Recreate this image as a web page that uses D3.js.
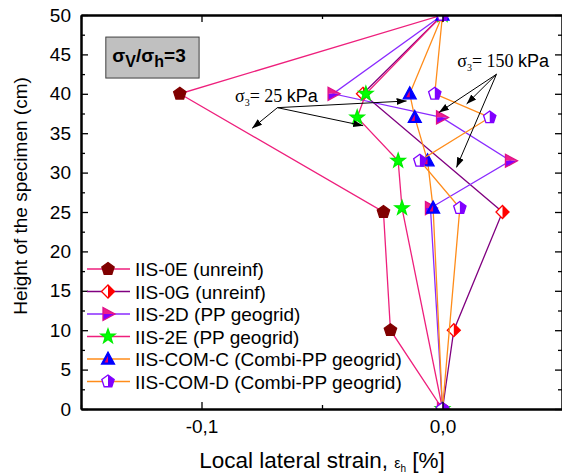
<!DOCTYPE html>
<html>
<head>
<meta charset="utf-8">
<script src="https://d3js.org/d3.v7.min.js"></script>
<style>
  body { margin: 0; background: #fff; }
  text { font-family: "Liberation Sans", Arial, sans-serif; }
</style>
</head>
<body>
<svg width="562" height="475"></svg>
<script>
// data (strain in %, height in cm)
const heightsA = [0, 10, 25, 40, 50];
const heightsB = [0, 25.5, 31.5, 37, 40, 50];

const strain0E = [0, -0.0216, -0.0245, -0.109, 0];
const strain0G = [0, 0.0047, 0.0249, -0.033, 0];
const strain2D = [0, -0.005, 0.0282, -0.0004, -0.0454, 0];
const strain2E = [0, -0.0168, -0.0184, -0.0354, -0.0318, 0];
const strainCOMC = [0, -0.0039, -0.0062, -0.0115, -0.0136, 0];
const strainCOMD = [0, 0.0072, -0.0094, 0.0196, -0.0032, 0];

const seriesNames = ["IIS-0E (unreinf)", "IIS-0G (unreinf)", "IIS-2D (PP geogrid)",
  "IIS-2E (PP geogrid)", "IIS-COM-C (Combi-PP geogrid)", "IIS-COM-D (Combi-PP geogrid)"];

const xMajor = [-0.1, 0];
const xMinor = [-0.15, -0.05, 0.05];
const yMajor = [0, 5, 10, 15, 20, 25, 30, 35, 40, 45, 50];
const yMinor = [2.5, 7.5, 12.5, 17.5, 22.5, 27.5, 32.5, 37.5, 42.5, 47.5];

const pink = "#ee1f7c", orange = "#ff8c1a", violet = "#8a2bff";

const series = [
  {name: seriesNames[0], h: heightsA, s: strain0E, line: pink, sym: "pent0E"},
  {name: seriesNames[1], h: heightsA, s: strain0G, line: "#800080", sym: "diamond"},
  {name: seriesNames[2], h: heightsB, s: strain2D, line: violet, sym: "tri2D"},
  {name: seriesNames[3], h: heightsB, s: strain2E, line: pink, sym: "star"},
  {name: seriesNames[4], h: heightsB, s: strainCOMC, line: orange, sym: "triC"},
  {name: seriesNames[5], h: heightsB, s: strainCOMD, line: orange, sym: "pentD"}
];

const svg = d3.select("svg");
const x = d3.scaleLinear().domain([-0.15, 0.05]).range([81, 563]);
const y = d3.scaleLinear().domain([0, 50]).range([409, 15]);

svg.append("defs").append("clipPath").attr("id", "plot")
  .append("rect").attr("x", 81).attr("y", 15).attr("width", 482).attr("height", 394);

// marker shapes: list of [points, fill, stroke]
function pentPts(r) {
  return d3.range(5).map(i => {
    const a = -Math.PI / 2 + i * 2 * Math.PI / 5;
    return [r * Math.cos(a), r * Math.sin(a)];
  });
}
function symbolParts(kind) {
  if (kind === "pent0E") {
    return [[pentPts(6.5), "#800000", "#800000"]];
  }
  if (kind === "pentD") {
    const p = pentPts(6.5);
    return [[p, "#fff", null], [[p[0], p[1], p[2], [0, p[2][1]]], "#8000ff", null], [p, "none", "#8000ff"]];
  }
  if (kind === "diamond") {
    const r = 6.5, p = [[0, -r], [r, 0], [0, r], [-r, 0]];
    return [[p, "#fff", null], [[[0, -r], [r, 0], [0, r]], "#ff0000", null], [p, "none", "#ff0000"]];
  }
  if (kind === "tri2D") {
    const r = 7, a = -5;
    return [[[[a, -6.5], [r, 0], [a, 0]], "#ee1f8a", null], [[[a, 0], [r, 0], [a, 6.5]], "#8000ff", null],
      [[[a, -6.5], [r, 0], [a, 6.5]], "none", "#e0108a"]];
  }
  if (kind === "triC") {
    const p = [[0, -7], [6.5, 5], [-6.5, 5]];
    return [[p, "#0000ff", null], [[[0, -3], [0, 3.5], [-3.5, 3.5]], "#e5006e", null], [p, "none", "#0000ff"]];
  }
  if (kind === "star") {
    const p = d3.range(10).map(i => {
      const a = -Math.PI / 2 + i * Math.PI / 5, rr = i % 2 ? 3 : 7.5;
      return [rr * Math.cos(a), rr * Math.sin(a)];
    });
    return [[p, "#00ff00", "#00ee00"]];
  }
}
function drawSymbol(g, kind) {
  symbolParts(kind).forEach(([pts, fill, stroke]) => {
    g.append("path").attr("d", "M" + pts.map(p => p.join(",")).join("L") + "Z")
      .attr("fill", fill).attr("stroke", stroke || "none").attr("stroke-width", 1.3);
  });
}

// lines and markers
const plot = svg.append("g").attr("clip-path", "url(#plot)");
const line = d3.line().x(d => x(d[0])).y(d => y(d[1]));
series.forEach(sr => {
  const pts = sr.s.map((v, i) => [v, sr.h[i]]);
  plot.append("path").datum(pts).attr("d", line)
    .attr("fill", "none").attr("stroke", sr.line).attr("stroke-width", 1.3);
  pts.forEach(p => {
    drawSymbol(plot.append("g").attr("transform", `translate(${x(p[0])},${y(p[1])})`), sr.sym);
  });
});

// axes, ticks inward on all four sides
const fmt = d => d.toFixed(1).replace(".", ",");
function axisPair(axisFn, scale, tr, majors, minors, labels, pad) {
  const gMaj = svg.append("g").attr("transform", tr)
    .call(axisFn(scale).tickValues(majors).tickSize(-7).tickSizeOuter(0).tickPadding(pad)
      .tickFormat(labels ? labels : ""));
  svg.append("g").attr("transform", tr)
    .call(axisFn(scale).tickValues(minors).tickSize(-4).tickSizeOuter(0).tickFormat(""));
  return gMaj;
}
axisPair(d3.axisBottom, x, "translate(0,409)", xMajor, xMinor, fmt, 10.5);
axisPair(d3.axisTop, x, "translate(0,15)", xMajor, xMinor, null, 4);
axisPair(d3.axisLeft, y, "translate(81,0)", yMajor, yMinor, d3.format("d"), 10);
axisPair(d3.axisRight, y, "translate(562,0)", yMajor, yMinor, null, 4);
svg.selectAll(".domain").attr("stroke", "#000").attr("stroke-width", 2);
svg.selectAll(".tick line").attr("stroke", "#000").attr("stroke-width", 1.3);
svg.selectAll(".tick text").attr("fill", "#000").style("font-size", "19px")
  .style("font-family", "'Liberation Sans', Arial, sans-serif");

// axis titles
const xt = svg.append("text").attr("x", 322).attr("y", 468).attr("text-anchor", "middle")
  .style("font-size", "22.5px");
xt.append("tspan").text("Local lateral strain, ");
xt.append("tspan").text("ε").style("font-size", "14px");
xt.append("tspan").text("h").style("font-size", "10px").attr("dy", 4);
xt.append("tspan").text(" [%]").attr("dy", -4);

svg.append("text").attr("transform", "translate(27,196) rotate(-90)")
  .attr("text-anchor", "middle").style("font-size", "19px")
  .text("Height of the specimen (cm)");

// ratio box
svg.append("rect").attr("x", x(-0.1397)).attr("y", y(47.2))
  .attr("width", x(-0.101) - x(-0.1397)).attr("height", y(42.0) - y(47.2))
  .attr("fill", "#c0c0c0").attr("stroke", "#404040").attr("stroke-width", 1);
const bt = svg.append("text").attr("x", x(-0.137)).attr("y", y(44.0))
  .style("font-size", "19px").style("font-weight", "bold");
bt.append("tspan").text("σ");
bt.append("tspan").text("V").attr("dy", 5).style("font-size", "16px");
bt.append("tspan").text("/σ").attr("dy", -5);
bt.append("tspan").text("h").attr("dy", 5).style("font-size", "16px");
bt.append("tspan").text("=3").attr("dy", -5);

// confining pressure labels with arrows
svg.select("defs").append("marker").attr("id", "arr").attr("viewBox", "0 0 10 10")
  .attr("refX", 10).attr("refY", 5).attr("markerWidth", 10).attr("markerHeight", 10)
  .attr("markerUnits", "userSpaceOnUse").attr("orient", "auto")
  .append("path").attr("d", "M0,1.5L10,5L0,8.5Z").attr("fill", "#000");

const notes = [
  {label: "25", tx: -0.0861, ty: 38.92, from: [-0.0685, 38.24],
    to: [[-0.0149, 39.09], [-0.0329, 35.95], [-0.079, 35.62]]},
  {label: "150", tx: 0.0061, ty: 43.4, from: [0.0224, 42.48],
    to: [[-0.0015, 37.63], [0.01, 38.71], [0.0058, 30.65]]}
];
notes.forEach(n => {
  n.to.forEach(t => {
    svg.append("line").attr("x1", x(n.from[0])).attr("y1", y(n.from[1]))
      .attr("x2", x(t[0])).attr("y2", y(t[1]))
      .attr("stroke", "#000").attr("stroke-width", 1).attr("marker-end", "url(#arr)");
  });
  const t = svg.append("text").attr("x", x(n.tx)).attr("y", y(n.ty)).style("font-size", "18px");
  t.append("tspan").text("σ").style("font-family", "'Liberation Serif', serif");
  t.append("tspan").text("3").attr("dy", 4).style("font-size", "10px")
    .style("font-family", "'Liberation Serif', serif");
  t.append("tspan").text("= " + n.label + " ").attr("dy", -4)
    .style("font-family", "'Liberation Serif', serif");
  t.append("tspan").text("kPa");
});

// legend
const leg = svg.append("g");
series.forEach((sr, i) => {
  const ly = 269 + i * 22.5;
  leg.append("line").attr("x1", 87).attr("x2", 130).attr("y1", ly).attr("y2", ly)
    .attr("stroke", sr.line).attr("stroke-width", 1.3);
  drawSymbol(leg.append("g").attr("transform", `translate(108,${ly})`), sr.sym);
  leg.append("text").attr("x", 135).attr("y", ly + 7).style("font-size", "19px").text(sr.name);
});
</script>
</body>
</html>
